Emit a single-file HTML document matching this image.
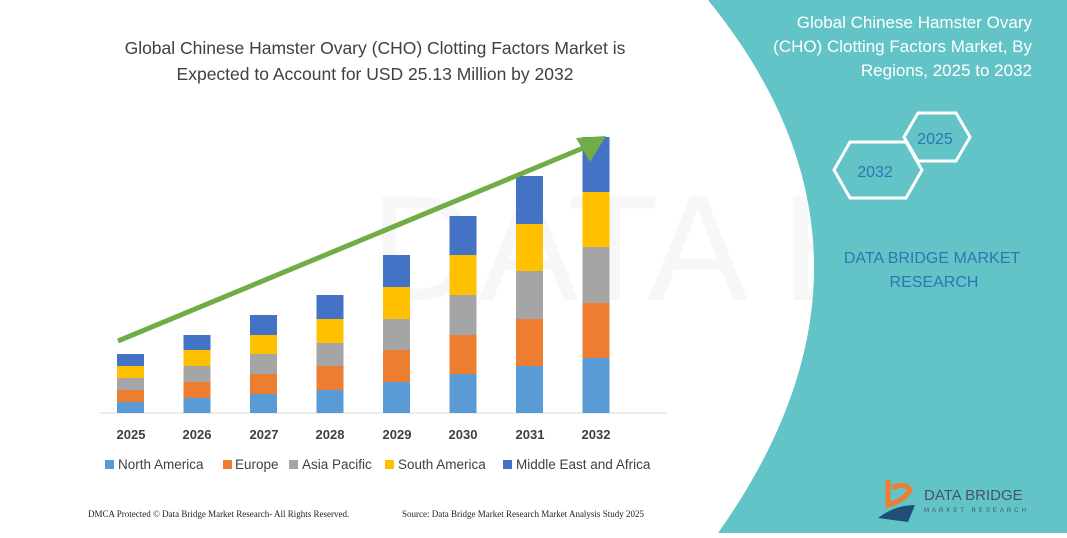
<!DOCTYPE html>
<html><head><style>
body{margin:0;width:1067px;height:533px;overflow:hidden;background:#fff;font-family:"Liberation Sans",sans-serif;}
</style></head><body>
<svg width="1067" height="533" xmlns="http://www.w3.org/2000/svg">
<rect width="1067" height="533" fill="#fff"/>
<text x="370" y="300" font-size="150" fill="#f7f7f7" font-family="Liberation Sans">DATA BRIDGE</text>
<path d="M708,0 Q915,255 718,533 L1067,533 L1067,0 Z" fill="#63c4c8"/>
<g font-family="Liberation Sans" font-size="17.5" fill="#404040" text-anchor="middle">
<text x="375" y="54">Global Chinese Hamster Ovary (CHO) Clotting Factors Market is</text>
<text x="375" y="80">Expected to Account for USD 25.13 Million by 2032</text>
</g>
<g font-family="Liberation Sans" font-size="17" fill="#fff" text-anchor="end">
<text x="1032" y="28">Global Chinese Hamster Ovary</text>
<text x="1032" y="52">(CHO) Clotting Factors Market, By</text>
<text x="1032" y="76">Regions, 2025 to 2032</text>
</g>
<polygon points="834,170 850,142 906,142 922,170 906,198 850,198" fill="none" stroke="#fff" stroke-width="3"/>
<polygon points="904,137 918,113 956,113 970,137 956,161 918,161" fill="none" stroke="#fff" stroke-width="3"/>
<text x="875" y="177" font-size="16" fill="#2e75b6" text-anchor="middle">2032</text>
<text x="935" y="144" font-size="16" fill="#2e75b6" text-anchor="middle">2025</text>
<text x="932" y="263" font-size="16" fill="#2e75b6" text-anchor="middle">DATA BRIDGE MARKET</text>
<text x="934" y="287" font-size="16" fill="#2e75b6" text-anchor="middle">RESEARCH</text>
<path d="M888,480 L888,505 Q905,500 910,490 Q905,482 892,488" fill="none" stroke="#ed7d31" stroke-width="5"/>
<path d="M878,518 Q895,505 915,505 L908,522 Z" fill="#1f4e79"/>
<text x="924" y="500" font-size="15" fill="#44546a">DATA BRIDGE</text>
<text x="924" y="512" font-size="6" fill="#44546a" letter-spacing="3">MARKET RESEARCH</text>
<line x1="100" y1="413" x2="667" y2="413" stroke="#d9d9d9" stroke-width="1"/>
<g id="bars"></g>
<line x1="118" y1="341" x2="588" y2="146" stroke="#70ad47" stroke-width="5"/>
<polygon points="606,136 576,138 590,162" fill="#70ad47"/>
<g font-size="13" font-weight="bold" fill="#404040" text-anchor="middle">
<text x="131" y="439">2025</text><text x="197" y="439">2026</text><text x="264" y="439">2027</text><text x="330" y="439">2028</text><text x="397" y="439">2029</text><text x="463" y="439">2030</text><text x="530" y="439">2031</text><text x="596" y="439">2032</text>
</g>
<g font-size="13.5" fill="#404040">
<rect x="105" y="460" width="9" height="9" fill="#5b9bd5"/><text x="118" y="469">North America</text>
<rect x="223" y="460" width="9" height="9" fill="#ed7d31"/><text x="235" y="469">Europe</text>
<rect x="289" y="460" width="9" height="9" fill="#a5a5a5"/><text x="302" y="469">Asia Pacific</text>
<rect x="385" y="460" width="9" height="9" fill="#ffc000"/><text x="398" y="469">South America</text>
<rect x="503" y="460" width="9" height="9" fill="#4472c4"/><text x="516" y="469">Middle East and Africa</text>
</g>
<g font-family="Liberation Serif" font-size="9" fill="#222">
<text x="88" y="517">DMCA Protected © Data Bridge Market Research-  All Rights Reserved.</text>
<text x="402" y="517">Source: Data Bridge Market Research  Market Analysis Study 2025</text>
</g>
</svg>
<script>
var d=[[402,390,378,366,354],[398,382,366,350,335],[394,374,354,335,315],[390,366,343,319,295],[382,350,319,287,255],[374,335,295,255,216],[366,319,271,224,176],[358,303,247,192,137]];
var c=["#5b9bd5","#ed7d31","#a5a5a5","#ffc000","#4472c4"];var g=document.getElementById("bars");var s="";
d.forEach(function(b,i){var x=117+i*66.5,prev=413;b.forEach(function(y,j){s+='<rect x="'+x+'" y="'+y+'" width="27" height="'+(prev-y)+'" fill="'+c[j]+'"/>';prev=y;});});
g.innerHTML=s;
</script>
</body></html>
